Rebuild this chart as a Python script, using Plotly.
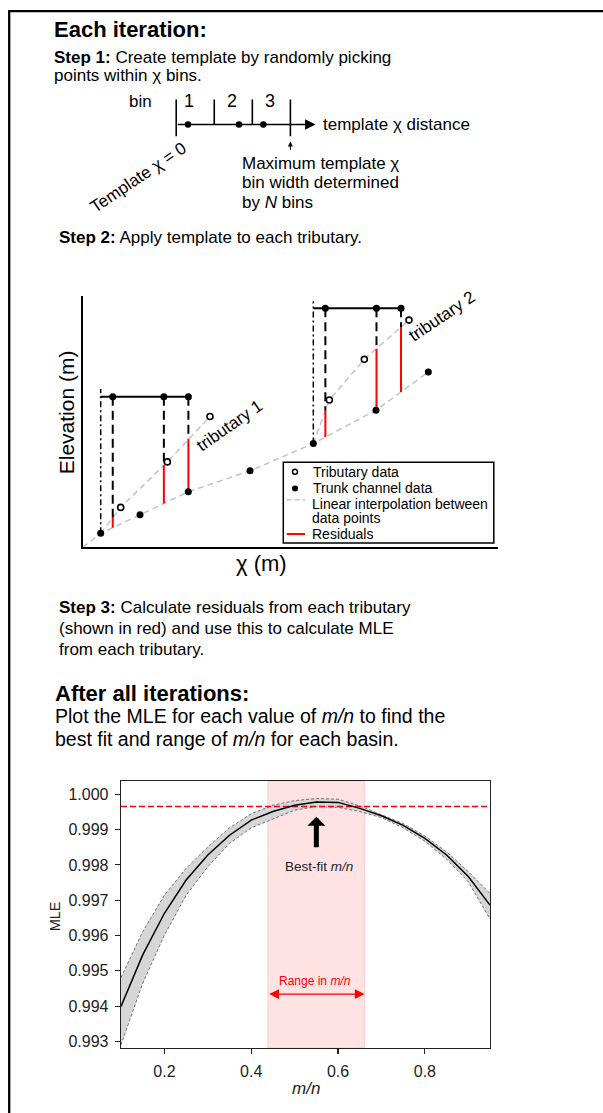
import numpy as np
import plotly.graph_objects as go

W, H = 603, 1113
FONT = "Liberation Sans, Arial, Helvetica, sans-serif"

# ---------------- Step 1: template (units = chi bins) ----------------
bin_edges = [0, 1, 2, 3]
bin_labels = ["1", "2", "3"]
bin_label_x = [0.34, 1.46, 2.46]
template_points = [0.31, 1.65, 2.29]

# ---------------- Step 2: schematic (arbitrary chi / elevation units) ----------------
trunk_chi = [4.33, 13.79, 25.41, 40.26, 55.49, 70.57, 83.16]
trunk_elev = [3.34, 7.77, 13.26, 18.27, 24.80, 32.75, 41.88]
trib1_chi = [9.14, 20.36, 30.63]
trib1_elev = [9.54, 20.41, 31.24]
trib2_chi = [59.34, 67.76, 78.51]
trib2_elev = [35.20, 44.91, 54.28]
trib_junction = [0, 4]            # index of trunk node where each tributary joins
template_offsets = [2.9, 15.2, 21.1]
template_bar_elev = [36.0, 57.1]
template_top_elev = [37.8, 58.8]

# ---------------- MLE vs m/n ----------------
mn = [0.10, 0.15, 0.20, 0.25, 0.30, 0.35, 0.40, 0.45, 0.50,
      0.55, 0.60, 0.65, 0.70, 0.75, 0.80, 0.85, 0.90, 0.95]
mle_mean = [0.99399, 0.99545, 0.99663, 0.99757, 0.99828, 0.99884, 0.99927, 0.99951, 0.99969,
            0.99978, 0.99977, 0.99960, 0.99939, 0.99912, 0.99875, 0.99828, 0.99767, 0.99686]
mle_upper = [0.99481, 0.99611, 0.99714, 0.99790, 0.99851, 0.99905, 0.99945, 0.99969, 0.99982,
             0.99988, 0.99986, 0.99967, 0.99942, 0.99917, 0.99882, 0.99837, 0.99781, 0.99719]
mle_lower = [0.99290, 0.99465, 0.99601, 0.99714, 0.99795, 0.99861, 0.99905, 0.99931, 0.99955,
             0.99965, 0.99963, 0.99951, 0.99934, 0.99905, 0.99867, 0.99816, 0.99752, 0.99647]
mle_threshold = 0.99965
mn_range = [0.438, 0.661]
best_fit_mn = 0.55
mle_yticks = [0.993, 0.994, 0.995, 0.996, 0.997, 0.998, 0.999, 1.000]
mn_xticks = [0.2, 0.4, 0.6, 0.8]


def PX(x):
    return x / W


def PY(y):
    return 1 - y / H


fig = go.Figure()

# ---------- Step 1 traces (xaxis / yaxis) ----------
ex, ey = [], []
for i, e in enumerate(bin_edges):
    low = -0.47 if i in (0, len(bin_edges) - 1) else 0
    ex += [e, e, None]
    ey += [low, 1.0, None]
fig.add_trace(go.Scatter(x=ex, y=ey, mode="lines", line=dict(color="black", width=1.6),
                         xaxis="x", yaxis="y", hoverinfo="skip", showlegend=False))
fig.add_trace(go.Scatter(x=template_points, y=[0] * len(template_points), mode="markers",
                         marker=dict(color="black", size=6.5), xaxis="x", yaxis="y",
                         hoverinfo="skip", showlegend=False))

# ---------- Step 2 traces (xaxis2 / yaxis2) ----------
grey = dict(color="#c4c4c4", width=1.5, dash="6px,4px")
fig.add_trace(go.Scatter(x=[0] + trunk_chi, y=[0] + trunk_elev, mode="lines", line=grey,
                         xaxis="x2", yaxis="y2", hoverinfo="skip", showlegend=False))
tribs = [(trib1_chi, trib1_elev), (trib2_chi, trib2_elev)]
for (tc, te), j in zip(tribs, trib_junction):
    fig.add_trace(go.Scatter(x=[trunk_chi[j]] + tc, y=[trunk_elev[j]] + te, mode="lines", line=grey,
                             xaxis="x2", yaxis="y2", hoverinfo="skip", showlegend=False))

for k, ((tc, te), j) in enumerate(zip(tribs, trib_junction)):
    x0, y0 = trunk_chi[j], trunk_elev[j]
    xs = np.array([x0 + o for o in template_offsets])
    trib_i = np.interp(xs, [x0] + tc, [y0] + te)
    trunk_i = np.interp(xs, trunk_chi, trunk_elev)
    bar = template_bar_elev[k]
    fig.add_trace(go.Scatter(x=[x0, x0], y=[y0, template_top_elev[k]], mode="lines",
                             line=dict(color="black", width=1.5, dash="6px,3px,2px,3px"),
                             xaxis="x2", yaxis="y2", hoverinfo="skip", showlegend=False))
    fig.add_trace(go.Scatter(x=[x0, xs[-1]], y=[bar, bar], mode="lines",
                             line=dict(color="black", width=2),
                             xaxis="x2", yaxis="y2", hoverinfo="skip", showlegend=False))
    dx, dy, rx, ry = [], [], [], []
    for xv, ti, tr in zip(xs, trib_i, trunk_i):
        dx += [xv, xv, None]
        dy += [bar, ti, None]
        rx += [xv, xv, None]
        ry += [ti, tr, None]
    fig.add_trace(go.Scatter(x=dx, y=dy, mode="lines",
                             line=dict(color="black", width=2, dash="9px,5px"),
                             xaxis="x2", yaxis="y2", hoverinfo="skip", showlegend=False))
    fig.add_trace(go.Scatter(x=rx, y=ry, mode="lines", line=dict(color="#ff0000", width=2),
                             xaxis="x2", yaxis="y2", hoverinfo="skip", showlegend=False))
    fig.add_trace(go.Scatter(x=list(xs), y=[bar] * len(xs), mode="markers",
                             marker=dict(color="black", size=7),
                             xaxis="x2", yaxis="y2", hoverinfo="skip", showlegend=False))

fig.add_trace(go.Scatter(x=trunk_chi, y=trunk_elev, mode="markers", marker=dict(color="black", size=7),
                         xaxis="x2", yaxis="y2", hoverinfo="skip", showlegend=False))
fig.add_trace(go.Scatter(x=trib1_chi + trib2_chi, y=trib1_elev + trib2_elev, mode="markers",
                         marker=dict(color="white", size=6, line=dict(color="black", width=1.6)),
                         xaxis="x2", yaxis="y2", hoverinfo="skip", showlegend=False))

# ---------- MLE traces (xaxis3 / yaxis3) ----------
band_edge = dict(color="#555555", width=0.8, dash="3px,2px")
fig.add_trace(go.Scatter(x=mn, y=mle_upper, mode="lines", line=band_edge,
                         xaxis="x3", yaxis="y3", hoverinfo="skip", showlegend=False))
fig.add_trace(go.Scatter(x=mn, y=mle_lower, mode="lines", line=band_edge, fill="tonexty",
                         fillcolor="#d6d6d6", xaxis="x3", yaxis="y3", hoverinfo="skip", showlegend=False))
fig.add_trace(go.Scatter(x=[mn[0], mn[-1]], y=[mle_threshold, mle_threshold], mode="lines",
                         line=dict(color="#ff0000", width=1.5, dash="6px,3px"),
                         xaxis="x3", yaxis="y3", hoverinfo="skip", showlegend=False))
fig.add_trace(go.Scatter(x=mn, y=mle_mean, mode="lines", line=dict(color="black", width=1.5),
                         xaxis="x3", yaxis="y3", hoverinfo="skip", showlegend=False))

# ---------- shapes ----------
shapes = [
    dict(type="line", xref="paper", yref="paper", x0=PX(9.2), x1=PX(620), y0=PY(11.2), y1=PY(11.2),
         line=dict(color="black", width=2.3)),
    dict(type="line", xref="paper", yref="paper", x0=PX(9.2), x1=PX(9.2), y0=PY(10), y1=PY(1130),
         line=dict(color="black", width=2.3)),
    dict(type="rect", xref="x3", yref="y3 domain", x0=mn_range[0], x1=mn_range[1], y0=0, y1=1,
         fillcolor="rgba(255,0,0,0.11)", line=dict(color="rgba(255,0,0,0.13)", width=1), layer="below"),
    dict(type="rect", xref="paper", yref="paper", x0=PX(283.3), x1=PX(493.8), y0=PY(544), y1=PY(463),
         line=dict(color="black", width=1.5), fillcolor="rgba(0,0,0,0)"),
    dict(type="circle", xref="paper", yref="paper", x0=PX(292.5), x1=PX(297.5), y0=PY(475.2), y1=PY(470.2),
         line=dict(color="black", width=1.5), fillcolor="white"),
    dict(type="circle", xref="paper", yref="paper", x0=PX(292), x1=PX(298), y0=PY(492.3), y1=PY(486.3),
         line=dict(color="black", width=0), fillcolor="black"),
    dict(type="line", xref="paper", yref="paper", x0=PX(286.7), x1=PX(305), y0=PY(500.7), y1=PY(500.7),
         line=dict(color="#c4c4c4", width=1.5, dash="5px,3px")),
    dict(type="line", xref="paper", yref="paper", x0=PX(286.7), x1=PX(305), y0=PY(535), y1=PY(535),
         line=dict(color="#ff0000", width=2)),
]


def txt(s, x, y, size, xa="left", ya="middle", angle=0, color="black"):
    return dict(text=s, x=PX(x), y=PY(y), xref="paper", yref="paper", xanchor=xa, yanchor=ya,
                showarrow=False, textangle=angle, font=dict(size=size, color=color, family=FONT))


ann = [
    txt("<b>Each iteration:</b>", 52, 29.5, 22),
    txt("<b>Step 1:</b> Create template by randomly picking", 52, 57.3, 17),
    txt("points within χ bins.", 52, 75.5, 17),
    txt("bin", 154, 101.5, 17, xa="right"),
    txt("template χ distance", 321, 125, 17),
    txt("Maximum template χ", 240.4, 163.3, 17),
    txt("bin width determined", 240.4, 183.3, 17),
    txt("by <i>N</i> bins", 240.4, 203.3, 17),
    txt("Template χ = 0", 138.5, 178.3, 17, xa="center", angle=-34),
    txt("<b>Step 2:</b> Apply template to each tributary.", 57, 238.3, 17),
    txt("Elevation (m)", 66, 413, 21, xa="center", angle=-90),
    txt("χ (m)", 261.7, 565, 22, xa="center"),
    txt("tributary 1", 230, 426.7, 17, xa="center", angle=-35),
    txt("tributary 2", 441.7, 316.7, 17, xa="center", angle=-34),
    txt("Tributary data", 311, 472.7, 14),
    txt("Trunk channel data", 311, 489.3, 14),
    txt("Linear interpolation between", 310, 504.5, 14),
    txt("data points", 310, 519, 14),
    txt("Residuals", 310, 535, 14),
    txt("<b>Step 3:</b> Calculate residuals from each tributary", 57, 608.3, 17),
    txt("(shown in red) and use this to calculate MLE", 57, 630, 17),
    txt("from each tributary.", 57, 650.7, 17),
    txt("<b>After all iterations:</b>", 53, 695, 22),
    txt("Plot the MLE for each value of <i>m/n</i> to find the", 53, 717.3, 19.5),
    txt("best fit and range of <i>m/n</i> for each basin.", 53, 740.5, 19.5),
    txt("MLE", 55, 918, 14.5, xa="center", angle=-90, color="#222222"),
    txt("<i>m/n</i>", 305.7, 1090, 17, xa="center", color="#222222"),
]

for lab, lx in zip(bin_labels, bin_label_x):
    ann.append(dict(text=lab, x=lx, y=0.93, xref="x", yref="y", showarrow=False,
                    xanchor="center", yanchor="middle", font=dict(size=18, family=FONT, color="black")))
ann.append(dict(text="", x=3.66, y=0, ax=0, ay=0, xref="x", yref="y", axref="x", ayref="y",
                showarrow=True, arrowhead=2, arrowsize=1.3, arrowwidth=1.6, arrowcolor="black"))
ann.append(dict(text="", x=bin_edges[-1], y=-0.68, ax=bin_edges[-1], ay=-1.08, xref="x", yref="y",
                axref="x", ayref="y", showarrow=True, arrowhead=2, arrowsize=1, arrowwidth=1,
                arrowcolor="black"))
ann.append(dict(text="", x=best_fit_mn, y=0.99936, ax=best_fit_mn, ay=0.99846, xref="x3", yref="y3",
                axref="x3", ayref="y3", showarrow=True, arrowhead=1, arrowsize=0.6, arrowwidth=5,
                arrowcolor="black"))
ann.append(dict(text="Best-fit <i>m/n</i>", x=0.556, y=0.99796, xref="x3", yref="y3", showarrow=False,
                xanchor="center", yanchor="middle", font=dict(size=13.5, family=FONT, color="#222222")))
ann.append(dict(text="", x=mn_range[1], y=0.99434, ax=mn_range[0], ay=0.99434, xref="x3", yref="y3",
                axref="x3", ayref="y3", showarrow=True, arrowhead=2, arrowside="end+start",
                arrowsize=1.5, arrowwidth=1.3, arrowcolor="#ff0000"))
ann.append(dict(text="Range in <i>m/n</i>", x=0.548, y=0.99470, xref="x3", yref="y3", showarrow=False,
                xanchor="center", yanchor="middle", font=dict(size=12, family=FONT, color="#ff0000")))

hidden = dict(visible=False, showgrid=False, zeroline=False, fixedrange=True)

fig.update_layout(
    width=W, height=H, margin=dict(l=0, r=0, t=0, b=0),
    paper_bgcolor="white", plot_bgcolor="rgba(0,0,0,0)",
    showlegend=False,
    font=dict(family=FONT, color="black"),
    xaxis=dict(domain=[PX(138.13), PX(347.5)], range=[-1, 4.5], anchor="y", **hidden),
    yaxis=dict(domain=[PY(157.2), PY(94.7)], range=[-1.3, 1.2], anchor="x", **hidden),
    xaxis2=dict(domain=[PX(82.7), PX(498.3)], range=[0, 100], anchor="y2", showline=True,
                linecolor="black", linewidth=2, showticklabels=False, ticks="", showgrid=False,
                zeroline=False),
    yaxis2=dict(domain=[PY(548.3), PY(296.7)], range=[0, 60], anchor="x2", showline=True,
                linecolor="black", linewidth=2, showticklabels=False, ticks="", showgrid=False,
                zeroline=False),
    xaxis3=dict(domain=[PX(121), PX(490)], range=[0.1, 0.95], anchor="y3", tickvals=mn_xticks,
                ticktext=[f"{v:.1f}" for v in mn_xticks], ticks="outside", ticklen=5, tickwidth=1.2,
                tickcolor="#222222", showline=True, mirror=True, linecolor="#222222", linewidth=1.3,
                showgrid=False, zeroline=False, ticklabelstandoff=3,
                tickfont=dict(size=16, color="#222222", family=FONT)),
    yaxis3=dict(domain=[PY(1050), PY(782.7)], range=[0.992811, 1.0003675], anchor="x3",
                tickvals=mle_yticks, ticktext=[f"{v:.3f}" for v in mle_yticks], ticks="outside",
                ticklen=5, tickwidth=1.2, tickcolor="#222222", showline=True, mirror=True,
                linecolor="#222222", linewidth=1.3, showgrid=False, zeroline=False,
                ticklabelstandoff=3, tickfont=dict(size=16, color="#222222", family=FONT)),
    shapes=shapes,
    annotations=ann,
)

fig.write_html("out.html", config={"displayModeBar": False, "staticPlot": True},
               post_script="document.body.style.margin='0';")
